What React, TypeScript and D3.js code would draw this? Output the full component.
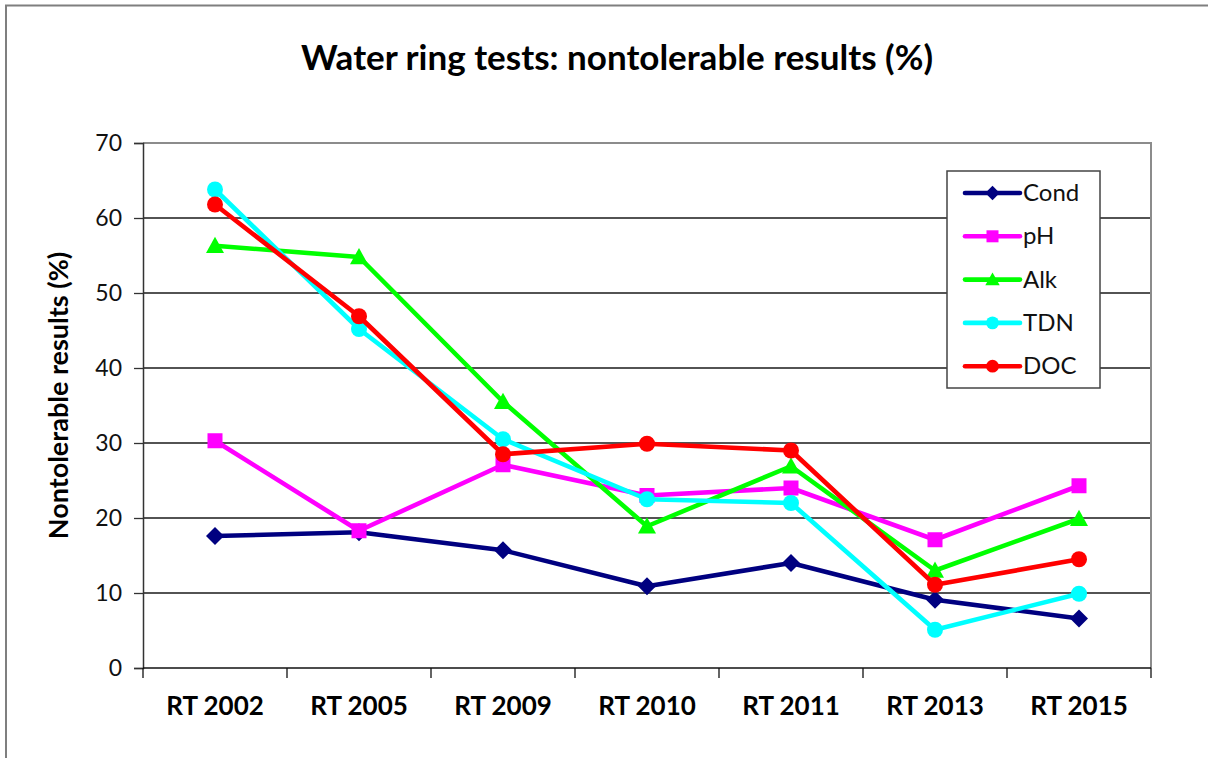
import { useEffect, useRef } from "react";
import * as d3 from "d3";

// categories (ring tests)
const categories = ["RT 2002", "RT 2005", "RT 2009", "RT 2010", "RT 2011", "RT 2013", "RT 2015"];

// series values
const condValues = [17.6, 18.1, 15.7, 10.9, 14.0, 9.1, 6.6];
const phValues = [30.3, 18.3, 27.1, 23.0, 24.0, 17.1, 24.3];
const alkValues = [56.3, 54.8, 35.5, 18.9, 26.9, 13.0, 19.9];
const tdnValues = [63.8, 45.2, 30.5, 22.5, 22.0, 5.1, 9.9];
const docValues = [61.8, 46.9, 28.5, 29.9, 29.0, 11.1, 14.5];

const yTicks = [0, 10, 20, 30, 40, 50, 60, 70];

type Series = { name: string; values: number[]; color: string; marker: string };

const series: Series[] = [
    { name: "Cond", values: condValues, color: "#000080", marker: "diamond" },
    { name: "pH", values: phValues, color: "#ff00ff", marker: "square" },
    { name: "Alk", values: alkValues, color: "#00ff00", marker: "triangle" },
    { name: "TDN", values: tdnValues, color: "#00ffff", marker: "circle" },
    { name: "DOC", values: docValues, color: "#ff0000", marker: "circle" },
];

const FONT = "Lato, 'Open Sans', sans-serif";

// draws one marker centred on (cx, cy)
function drawMarker(g: d3.Selection<SVGGElement, unknown, null, undefined>, kind: string, cx: number, cy: number, color: string, size = 1) {
    if (kind === "circle") {
        g.append("circle").attr("cx", cx).attr("cy", cy).attr("r", 8 * size).attr("fill", color);
    } else if (kind === "square") {
        const s = 15 * size;
        g.append("rect").attr("x", cx - s / 2).attr("y", cy - s / 2).attr("width", s).attr("height", s).attr("fill", color);
    } else if (kind === "diamond") {
        const s = 9 * size;
        g.append("path")
            .attr("d", `M${cx},${cy - s}L${cx + s},${cy}L${cx},${cy + s}L${cx - s},${cy}Z`)
            .attr("fill", color);
    } else {
        const s = 9 * size;
        g.append("path")
            .attr("d", `M${cx},${cy - s}L${cx + s},${cy + s * 0.8}L${cx - s},${cy + s * 0.8}Z`)
            .attr("fill", color);
    }
}

export default function App() {
    const svgRef = useRef<SVGSVGElement | null>(null);

    useEffect(() => {
        const width = 1208;
        const height = 758;
        const m = { top: 143, left: 143, right: 57, bottom: 90 };
        const w = width - m.left - m.right;
        const h = height - m.top - m.bottom;

        const svg = d3.select(svgRef.current!);
        svg.selectAll("*").remove();

        svg.append("rect").attr("width", width).attr("height", height).attr("fill", "#fff");

        // outer chart frame
        svg.append("path")
            .attr("d", `M6,${height}V5.5H${width}`)
            .attr("fill", "none")
            .attr("stroke", "#7f7f7f")
            .attr("stroke-width", 2);

        // title
        svg.append("text")
            .attr("x", 617)
            .attr("y", 70)
            .attr("text-anchor", "middle")
            .style("font-family", FONT)
            .style("font-weight", "bold")
            .style("font-size", "35px")
            .text("Water ring tests: nontolerable results (%)");

        const x = d3.scaleBand<string>().domain(categories).range([0, w]);
        const y = d3.scaleLinear().domain([0, 70]).range([h, 0]);

        const g = svg.append("g").attr("transform", `translate(${m.left},${m.top})`);

        // gridlines
        g.append("g")
            .selectAll("line")
            .data(yTicks.filter((t) => t > 0 && t < 70))
            .enter()
            .append("line")
            .attr("x1", 0)
            .attr("x2", w)
            .attr("y1", (d) => y(d))
            .attr("y2", (d) => y(d))
            .attr("stroke", "#1a1a1a")
            .attr("stroke-width", 1.3);

        // plot area border (top / right)
        g.append("path")
            .attr("d", `M0,0H${w}V${h}`)
            .attr("fill", "none")
            .attr("stroke", "#8c8c8c")
            .attr("stroke-width", 2);

        // y axis
        const yAxis = g.append("g")
            .call(d3.axisLeft(y).tickValues(yTicks).tickSize(9).tickPadding(12).tickFormat((d) => String(d)));
        yAxis.select(".domain").attr("stroke", "#333").attr("stroke-width", 1.5);
        yAxis.selectAll(".tick line").attr("stroke", "#333").attr("stroke-width", 1.3);
        yAxis.selectAll("text")
            .style("font-family", FONT)
            .style("font-size", "23px")
            .attr("fill", "#111");

        // x axis: ticks sit on category boundaries
        const bounds = categories.map((c) => x(c)!).concat([w]);
        const xAxis = g.append("g").attr("transform", `translate(0,${h})`);
        xAxis.append("line").attr("x1", 0).attr("x2", w).attr("stroke", "#111").attr("stroke-width", 1.5);
        xAxis.selectAll("line.tk")
            .data(bounds)
            .enter()
            .append("line")
            .attr("class", "tk")
            .attr("x1", (d) => d)
            .attr("x2", (d) => d)
            .attr("y1", 0)
            .attr("y2", 10)
            .attr("stroke", "#111")
            .attr("stroke-width", 1.3);
        xAxis.selectAll("text")
            .data(categories)
            .enter()
            .append("text")
            .attr("x", (d) => x(d)! + x.bandwidth() / 2)
            .attr("y", 47)
            .attr("text-anchor", "middle")
            .style("font-family", FONT)
            .style("font-weight", "bold")
            .style("font-size", "26px")
            .text((d) => d);

        // y axis title
        svg.append("text")
            .attr("transform", `translate(68,${m.top + h / 2 - 10}) rotate(-90)`)
            .attr("text-anchor", "middle")
            .style("font-family", FONT)
            .style("font-weight", "bold")
            .style("font-size", "27px")
            .text("Nontolerable results (%)");

        // series lines + markers
        const line = d3.line<number>()
            .x((_, i) => x(categories[i])! + x.bandwidth() / 2)
            .y((d) => y(d));

        series.forEach((s) => {
            const sg = g.append("g");
            sg.append("path")
                .attr("d", line(s.values)!)
                .attr("fill", "none")
                .attr("stroke", s.color)
                .attr("stroke-width", 4.6)
                .attr("stroke-linejoin", "round");
            s.values.forEach((v, i) => {
                drawMarker(sg, s.marker, x(categories[i])! + x.bandwidth() / 2, y(v), s.color);
            });
        });

        // legend
        const lg = svg.append("g").attr("transform", "translate(947,171)");
        lg.append("rect")
            .attr("width", 153)
            .attr("height", 217)
            .attr("fill", "#fff")
            .attr("stroke", "#444")
            .attr("stroke-width", 1.5);
        series.forEach((s, i) => {
            const cy = 22 + i * 43.3;
            const row = lg.append("g");
            row.append("line")
                .attr("x1", 18)
                .attr("x2", 73)
                .attr("y1", cy)
                .attr("y2", cy)
                .attr("stroke", s.color)
                .attr("stroke-width", 4.6)
                .attr("stroke-linecap", "round");
            drawMarker(row, s.marker, 45.5, cy, s.color, 0.8);
            row.append("text")
                .attr("x", 76)
                .attr("y", cy + 8)
                .style("font-family", FONT)
                .style("font-size", "24px")
                .attr("fill", "#111")
                .text(s.name);
        });
    }, []);

    return <svg ref={svgRef} width={1208} height={758} style={{ position: "absolute", left: 0, top: 0 }} />;
}
